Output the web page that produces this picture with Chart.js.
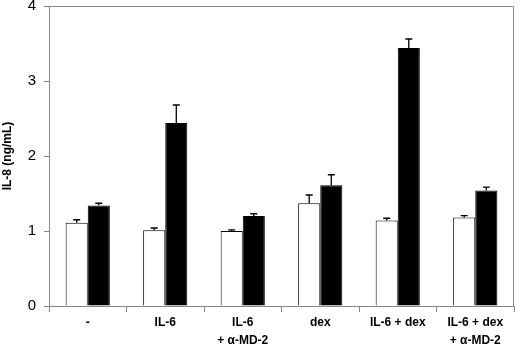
<!DOCTYPE html>
<html><head><meta charset="utf-8">
<script src="https://cdn.jsdelivr.net/npm/chart.js@4"></script>
<style>html,body{margin:0;padding:0;background:#fff}#wrap{width:520px;height:345px}</style>
</head><body><div id="wrap"><canvas id="c" width="520" height="345"></canvas></div>
<script>
const categories = [["-"], ["IL-6"], ["IL-6", "+ α-MD-2"], ["dex"], ["IL-6 + dex"], ["IL-6 + dex", "+ α-MD-2"]];
const controlValues = [1.11, 1.01, 1.00, 1.37, 1.14, 1.18];
const controlErrors = [0.04, 0.03, 0.015, 0.11, 0.03, 0.025];
const treatedValues = [1.34, 2.44, 1.20, 1.61, 3.44, 1.54];
const treatedErrors = [0.03, 0.24, 0.03, 0.14, 0.12, 0.045];
const yTicks = [0, 1, 2, 3, 4];
const yTitle = "IL-8 (ng/mL)";

const errorBars = {
  id: 'errorBars',
  afterDatasetsDraw(chart) {
    const ctx = chart.ctx, y = chart.scales.y;
    chart.data.datasets.forEach((ds, i) => {
      const meta = chart.getDatasetMeta(i);
      meta.data.forEach((bar, j) => {
        const top = y.getPixelForValue(ds.data[j] + ds.errors[j]);
        ctx.save();
        ctx.strokeStyle = '#000'; ctx.lineWidth = 1.3;
        ctx.beginPath();
        ctx.moveTo(bar.x, bar.y); ctx.lineTo(bar.x, top);
        ctx.moveTo(bar.x - 3.5, top); ctx.lineTo(bar.x + 3.5, top);
        ctx.stroke();
        ctx.restore();
      });
    });
  }
};
const frame = {
  id: 'frame',
  afterDraw(chart) {
    const a = chart.chartArea, ctx = chart.ctx;
    ctx.save(); ctx.strokeStyle = '#888'; ctx.lineWidth = 1;
    ctx.beginPath();
    ctx.moveTo(a.left, a.top + 0.5); ctx.lineTo(a.right - 0.5, a.top + 0.5); ctx.lineTo(a.right - 0.5, a.bottom);
    ctx.stroke(); ctx.restore();
  }
};

new Chart(document.getElementById('c'), {
  type: 'bar',
  data: {
    labels: categories,
    datasets: [
      { data: controlValues, errors: controlErrors, backgroundColor: '#fff', borderColor: '#000', borderWidth: 1 },
      { data: treatedValues, errors: treatedErrors, backgroundColor: '#000', borderColor: '#000', borderWidth: 1 }
    ]
  },
  options: {
    responsive: false, animation: false,
    layout: { padding: { top: 6, right: 6, left: 0, bottom: 0 } },
    plugins: { legend: { display: false }, tooltip: { enabled: false } },
    datasets: { bar: { categoryPercentage: 0.57, barPercentage: 1 } },
    scales: {
      x: {
        grid: { display: true, drawOnChartArea: false, offset: true, color: '#888', tickLength: 6 },
        border: { color: '#888', width: 1 },
        ticks: { color: '#000', font: { family: 'Liberation Sans, Arial', size: 12, weight: 'bold', lineHeight: 1.5 }, maxRotation: 0, autoSkip: false, padding: 2 },
        afterFit(s) { s.height = 39; s.paddingLeft = 0; s.paddingRight = 0; }
      },
      y: {
        min: 0, max: 4,
        afterBuildTicks(s) { s.ticks = yTicks.map(v => ({ value: v })); },
        grid: { display: true, drawOnChartArea: false, color: '#888', tickLength: 5 },
        border: { color: '#888', width: 1 },
        ticks: { color: '#000', font: { family: 'Liberation Sans Narrow, Liberation Sans, Arial', size: 15 }, padding: 8 },
        title: { display: true, text: yTitle, color: '#000', font: { family: 'Liberation Sans, Arial', size: 12, weight: 'bold' }, padding: { top: 0, bottom: 6 } },
        afterFit(s) { s.width = 49; s.paddingTop = 0; s.paddingBottom = 0; }
      }
    }
  },
  plugins: [errorBars, frame]
});
</script>
</body></html>
